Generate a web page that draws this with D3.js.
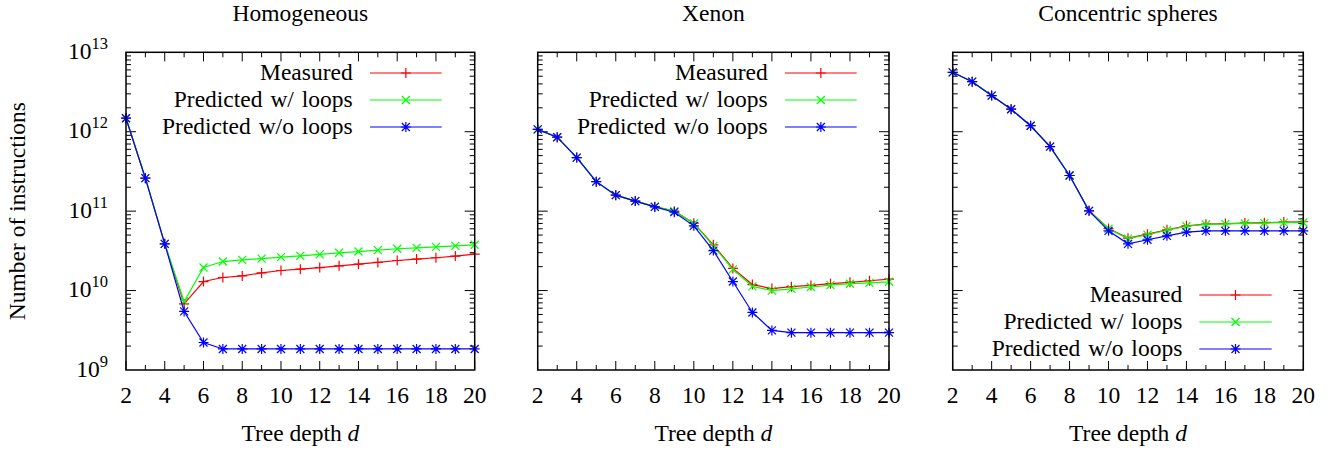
<!DOCTYPE html>
<html><head><meta charset="utf-8">
<script src="https://cdn.jsdelivr.net/npm/d3@7"></script>
<style>
html,body{margin:0;padding:0;background:#fff;}
</style></head>
<body><svg id="c" width="1331" height="452"></svg>
<script>
const depths = [2,3,4,5,6,7,8,9,10,11,12,13,14,15,16,17,18,19,20];
const xTicks = [2,4,6,8,10,12,14,16,18,20];
const yTicks = [1e9,1e10,1e11,1e12,1e13];
const yTickExp = ["9","10","11","12","13"];
const panelTitles = ["Homogeneous","Xenon","Concentric spheres"];
const seriesNames = ["Measured","Predicted w/ loops","Predicted w/o loops"];
const seriesColors = ["#ff0000","#00ff00","#0000ff"];

// Homogeneous
const homMeasured = [1.48e12,2.6e11,3.88e10,6.8e9,1.30e10,1.46e10,1.53e10,1.67e10,1.79e10,1.86e10,1.95e10,2.05e10,2.15e10,2.26e10,2.39e10,2.49e10,2.59e10,2.72e10,2.88e10];
const homWithLoops = [1.48e12,2.6e11,3.88e10,7.3e9,1.95e10,2.32e10,2.44e10,2.53e10,2.64e10,2.74e10,2.85e10,2.99e10,3.10e10,3.23e10,3.36e10,3.45e10,3.55e10,3.66e10,3.77e10];
const homNoLoops = [1.48e12,2.6e11,3.88e10,5.46e9,2.22e9,1.84e9,1.84e9,1.84e9,1.84e9,1.84e9,1.84e9,1.84e9,1.84e9,1.84e9,1.84e9,1.84e9,1.84e9,1.84e9,1.84e9];
// Xenon
const xenMeasured = [1.07e12,8.53e11,4.72e11,2.35e11,1.59e11,1.34e11,1.14e11,1.0e11,7.06e10,3.77e10,1.90e10,1.19e10,1.06e10,1.12e10,1.16e10,1.22e10,1.27e10,1.33e10,1.39e10];
const xenWithLoops = [1.07e12,8.53e11,4.72e11,2.35e11,1.59e11,1.34e11,1.14e11,1.0e11,7.0e10,3.66e10,1.85e10,1.13e10,1.0e10,1.05e10,1.11e10,1.17e10,1.22e10,1.25e10,1.29e10];
const xenNoLoops = [1.07e12,8.53e11,4.72e11,2.35e11,1.59e11,1.34e11,1.13e11,9.7e10,6.53e10,3.19e10,1.30e10,5.3e9,3.15e9,2.95e9,2.95e9,2.95e9,2.95e9,2.95e9,2.95e9];
// Concentric spheres
const conMeasured = [5.6e12,4.27e12,2.85e12,1.92e12,1.19e12,6.5e11,2.81e11,1.01e11,6.04e10,4.57e10,5.13e10,5.82e10,6.53e10,6.86e10,6.98e10,7.08e10,7.16e10,7.3e10,7.35e10];
const conWithLoops = [5.6e12,4.27e12,2.85e12,1.92e12,1.19e12,6.5e11,2.81e11,1.01e11,6.0e10,4.5e10,5.05e10,5.75e10,6.45e10,6.8e10,6.92e10,7.0e10,7.08e10,7.18e10,7.2e10];
const conNoLoops = [5.6e12,4.27e12,2.85e12,1.92e12,1.19e12,6.5e11,2.81e11,1.01e11,5.65e10,3.88e10,4.36e10,4.89e10,5.45e10,5.65e10,5.65e10,5.65e10,5.65e10,5.65e10,5.65e10];

const panelSeries = [
  [homMeasured,homWithLoops,homNoLoops],
  [xenMeasured,xenWithLoops,xenNoLoops],
  [conMeasured,conWithLoops,conNoLoops]
];

const panels = [
  {x0:126, x1:474.7, legend:{textX:352.7, lineX0:370, lineX1:441.7, y0:73}},
  {x0:537.7, x1:889, legend:{textX:767.7, lineX0:785, lineX1:856.7, y0:73}},
  {x0:952.7, x1:1303.3, legend:{textX:1182.3, lineX0:1199.3, lineX1:1271.7, y0:295}}
];
const yTop = 52.3, yBot = 370;
const FS = 23.5;

// pick an installed serif face
function pickSerif(){
  const cands = ["Liberation Serif","Tinos","Times New Roman","Times","Nimbus Roman","Nimbus Roman No9 L","DejaVu Serif","Noto Serif","FreeSerif"];
  const ctx = document.createElement("canvas").getContext("2d");
  const s = "Homogeneous Wwmli 0123";
  ctx.font = "40px monospace"; const wm = ctx.measureText(s).width;
  ctx.font = "40px sans-serif"; const ws = ctx.measureText(s).width;
  for(const c of cands){
    ctx.font = `40px "${c}", monospace`; const a = ctx.measureText(s).width;
    ctx.font = `40px "${c}", sans-serif`; const b = ctx.measureText(s).width;
    if(a!==wm && b!==ws) return `"${c}", serif`;
  }
  return "serif";
}
const FONT = pickSerif();

const markerPaths = [
  "M-5,0H5M0,-5V5",
  "M-4,-4L4,4M-4,4L4,-4",
  "M-5,0H5M0,-5V5M-4,-4L4,4M-4,4L4,-4"
];

const svg = d3.select("#c").style("font-family",FONT);

panels.forEach((p,pi)=>{
  const g = svg.append("g");
  const x = d3.scaleLinear().domain([2,20]).range([p.x0,p.x1]);
  const y = d3.scaleLog().domain([1e9,1e13]).range([yBot,yTop]);

  g.append("text").attr("x",(p.x0+p.x1)/2).attr("y",21).attr("text-anchor","middle")
    .style("font-family",FONT).attr("font-size",FS).text(panelTitles[pi]);

  const tickG = g.append("g").attr("stroke","#000").attr("stroke-width",1);
  for(let d=2; d<=20; d++){
    const L = d%2===0?9:5;
    tickG.append("line").attr("x1",x(d)).attr("x2",x(d)).attr("y1",yBot).attr("y2",yBot-L);
    tickG.append("line").attr("x1",x(d)).attr("x2",x(d)).attr("y1",yTop).attr("y2",yTop+L);
  }
  for(let e=9; e<13; e++){
    for(let m=1; m<10; m++){
      if(m===1 && e===9) continue;
      const v = m*Math.pow(10,e);
      const L = m===1?10:5;
      tickG.append("line").attr("x1",p.x0).attr("x2",p.x0+L).attr("y1",y(v)).attr("y2",y(v));
      tickG.append("line").attr("x1",p.x1).attr("x2",p.x1-L).attr("y1",y(v)).attr("y2",y(v));
    }
  }

  xTicks.forEach(t=>{
    g.append("text").attr("x",x(t)).attr("y",403.3).attr("text-anchor","middle")
      .style("font-family",FONT).attr("font-size",FS).text(t);
  });
  const xl = g.append("text").attr("x",(p.x0+p.x1)/2).attr("y",441).attr("text-anchor","middle")
    .style("font-family",FONT).attr("font-size",FS);
  xl.append("tspan").text("Tree depth ");
  xl.append("tspan").attr("font-style","italic").text("d");

  if(pi===0){
    yTicks.forEach((t,i)=>{
      const tx = g.append("text").attr("x",p.x0-18).attr("y",y(t)+6.5).attr("text-anchor","end")
        .style("font-family",FONT).attr("font-size",FS);
      tx.append("tspan").text("10");
      tx.append("tspan").attr("dy",-10).attr("font-size",16.5).text(yTickExp[i]);
    });
    g.append("text").attr("transform",`translate(25,${(yTop+yBot)/2}) rotate(-90)`)
      .attr("text-anchor","middle").style("font-family",FONT).attr("font-size",FS).text("Number of instructions");
  }

  const line = d3.line().x((v,i)=>x(depths[i])).y(v=>y(v));
  panelSeries[pi].forEach((vals,si)=>{
    g.append("path").attr("d",line(vals)).attr("fill","none")
      .attr("stroke",seriesColors[si]).attr("stroke-width",1.2);
    g.selectAll(null).data(vals).enter().append("path")
      .attr("transform",(v,i)=>`translate(${x(depths[i])},${y(v)})`)
      .attr("d",markerPaths[si]).attr("fill","none")
      .attr("stroke",seriesColors[si]).attr("stroke-width",1.2);
  });

  g.append("rect").attr("x",p.x0).attr("y",yTop).attr("width",p.x1-p.x0).attr("height",yBot-yTop)
    .attr("fill","none").attr("stroke","#000").attr("stroke-width",1.5);

  const lg = p.legend;
  seriesNames.forEach((n,si)=>{
    const ly = lg.y0 + si*27;
    g.append("text").attr("x",lg.textX).attr("y",ly+6.5).attr("text-anchor","end")
      .style("font-family",FONT).attr("font-size",FS).attr("word-spacing",2).text(n);
    g.append("line").attr("x1",lg.lineX0).attr("x2",lg.lineX1).attr("y1",ly).attr("y2",ly)
      .attr("stroke",seriesColors[si]).attr("stroke-width",1.2);
    g.append("path").attr("transform",`translate(${(lg.lineX0+lg.lineX1)/2},${ly})`)
      .attr("d",markerPaths[si]).attr("fill","none").attr("stroke",seriesColors[si]).attr("stroke-width",1.2);
  });
});
</script></body></html>
